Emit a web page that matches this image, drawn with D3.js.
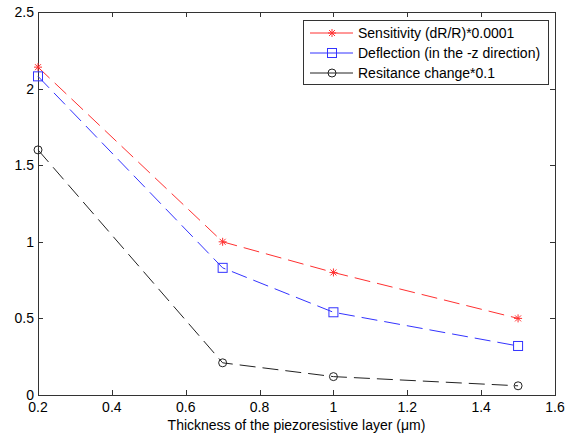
<!DOCTYPE html>
<meta charset="utf-8">
<style>
body { margin: 0; background: #fff; }
text { font-family: "Liberation Sans", Arial, sans-serif; font-size: 14px; fill: #000; }
.frame { fill: none; stroke: #333; stroke-width: 1; }
.tick { stroke: #333; }
</style>
<svg id="chart" width="572" height="441"></svg>
<script src="https://d3js.org/d3.v7.min.js"></script>
<script>

var thickness = [0.2, 0.7, 1.0, 1.5];
var sensitivity = [2.14, 1.0, 0.8, 0.5];
var deflection = [2.08, 0.83, 0.54, 0.32];
var resistance = [1.6, 0.21, 0.12, 0.06];
var xTicks = [0.2, 0.4, 0.6, 0.8, 1, 1.2, 1.4, 1.6];
var yTicks = [0, 0.5, 1, 1.5, 2, 2.5];
var seriesNames = ["Sensitivity (dR/R)*0.0001", "Deflection (in the -z direction)", "Resitance change*0.1"];

var svg = d3.select("#chart");
var padL = 38, padR = 555, padT = 12, padB = 395;

var x = d3.scaleLinear().domain([0.2, 1.6]).range([padL, padR]);
var y = d3.scaleLinear().domain([0, 2.5]).range([padB, padT]);

// box
svg.append("rect").attr("class", "frame")
    .attr("x", padL + 0.5).attr("y", padT + 0.5)
    .attr("width", padR - padL).attr("height", padB - padT);

// ticks, inward on all sides
xTicks.forEach(function(t) {
  var px = Math.round(x(t)) + 0.5;
  svg.append("line").attr("class", "tick").attr("x1", px).attr("x2", px).attr("y1", padB).attr("y2", padB - 5);
  svg.append("line").attr("class", "tick").attr("x1", px).attr("x2", px).attr("y1", padT).attr("y2", padT + 5);
  svg.append("text").attr("x", x(t)).attr("y", padB + 17).attr("text-anchor", "middle").text(t);
});
yTicks.forEach(function(t) {
  var py = Math.round(y(t)) + 0.5;
  svg.append("line").attr("class", "tick").attr("y1", py).attr("y2", py).attr("x1", padL).attr("x2", padL + 5);
  svg.append("line").attr("class", "tick").attr("y1", py).attr("y2", py).attr("x1", padR).attr("x2", padR - 5);
  svg.append("text").attr("x", padL - 4).attr("y", y(t) + 5).attr("text-anchor", "end").text(t);
});

svg.append("text").attr("x", (padL + padR) / 2).attr("y", 430).attr("text-anchor", "middle")
    .text("Thickness of the piezoresistive layer (\u03bcm)");

var series = [
  { values: sensitivity, color: "#ff3030", marker: "star" },
  { values: deflection, color: "#3333ff", marker: "square" },
  { values: resistance, color: "#222", marker: "circle" }
];

var line = d3.line().x(function(d) { return x(d[0]); }).y(function(d) { return y(d[1]); });

function drawMarker(g, type, cx, cy, color) {
  if (type === "star") {
    var r = 4;
    [[-r, 0, r, 0], [0, -r, 0, r], [-3, -3, 3, 3], [-3, 3, 3, -3]].forEach(function(s) {
      g.append("line").attr("x1", cx + s[0]).attr("y1", cy + s[1]).attr("x2", cx + s[2]).attr("y2", cy + s[3])
          .attr("stroke", color).attr("stroke-width", 1);
    });
  } else if (type === "square") {
    g.append("rect").attr("x", cx - 4.5).attr("y", cy - 4.5).attr("width", 9).attr("height", 9)
        .attr("fill", "none").attr("stroke", color).attr("stroke-width", 1);
  } else {
    g.append("circle").attr("cx", cx).attr("cy", cy).attr("r", 4)
        .attr("fill", "none").attr("stroke", color).attr("stroke-width", 1);
  }
}

series.forEach(function(s) {
  var pts = thickness.map(function(t, i) { return [t, s.values[i]]; });
  svg.append("path").attr("d", line(pts)).attr("fill", "none")
      .attr("stroke", s.color).attr("stroke-width", 1).attr("stroke-dasharray", "16,7");
  var g = svg.append("g");
  pts.forEach(function(p) { drawMarker(g, s.marker, x(p[0]), y(p[1]), s.color); });
});

// legend
var lg = svg.append("g");
lg.append("rect").attr("x", 303.5).attr("y", 20.5).attr("width", 245).attr("height", 64)
    .attr("fill", "#fff").attr("stroke", "#333");
series.forEach(function(s, i) {
  var ly = 33 + i * 20;
  lg.append("line").attr("x1", 310).attr("x2", 353).attr("y1", ly).attr("y2", ly)
      .attr("stroke", s.color).attr("stroke-width", 1);
  drawMarker(lg, s.marker, 332, ly, s.color);
  lg.append("text").attr("x", 358).attr("y", ly + 5).text(seriesNames[i]);
});

</script>
